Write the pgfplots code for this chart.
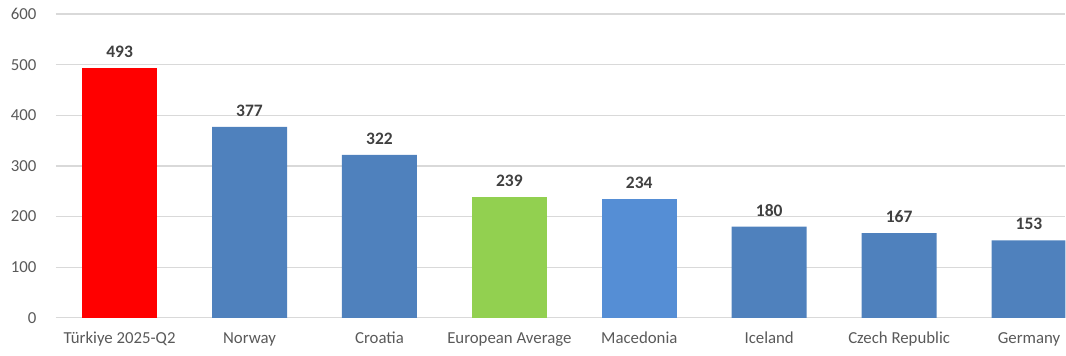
\documentclass[border=0pt]{standalone}
\usepackage{pgfplots}
\pgfplotsset{compat=1.18}
\usepackage{fontspec}
\setmainfont{Carlito}
\usetikzlibrary{calc}
\definecolor{tickgrey}{HTML}{595959}
\definecolor{labgrey}{HTML}{404040}
\definecolor{gridgrey}{HTML}{D9D9D9}
\definecolor{barblue}{HTML}{4F81BD}
\definecolor{barblue2}{HTML}{558ED5}
\definecolor{bargreen}{HTML}{92D050}
\definecolor{barred}{HTML}{FF0000}
\begin{document}
\begin{tikzpicture}
\begin{axis}[
  scale only axis,
  width=1010bp, height=304bp,
  xmin=-0.49, xmax=7.28,
  ymin=0, ymax=600,
  ytick={0,100,...,600},
  xtick={0,1,2,3,4,5,6,7},
  xticklabels={Türkiye 2025-Q2,Norway,Croatia,European Average,Macedonia,Iceland,Czech Republic,Germany},
  axis line style={draw=none},
  major tick length=0pt,
  ymajorgrids,
  grid style={gridgrey, line width=1.2bp},
  tick label style={font=\fontsize{16.8bp}{19bp}\selectfont, text=tickgrey},
  yticklabel style={xshift=-16bp},
  xticklabel style={yshift=-11bp},
  /pgf/number format/assume math mode=true,
  ybar, bar width=0.577, bar shift=0pt,
  nodes near coords,
  every node near coord/.append style={font=\bfseries\fontsize{17.5bp}{20bp}\selectfont, text=labgrey, yshift=7bp},
  clip=true,
]
\addplot[fill=barred, draw=none] coordinates {(0,493)};
\addplot[fill=barblue, draw=none] coordinates {(1,377) (2,322) (5,180) (6,167) (7,153)};
\addplot[fill=bargreen, draw=none] coordinates {(3,239)};
\addplot[fill=barblue2, draw=none] coordinates {(4,234)};
\end{axis}
\path ($(current axis.south west)+(-56bp,-38bp)$) rectangle ($(current axis.north east)+(0bp,14bp)$);
\end{tikzpicture}
\end{document}
